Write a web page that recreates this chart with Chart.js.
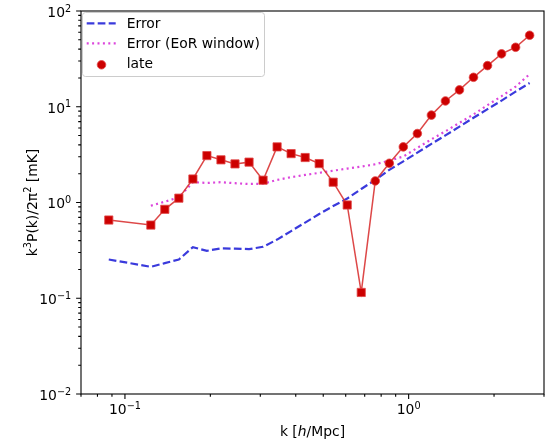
<!DOCTYPE html>
<html>
<head>
<meta charset="utf-8">
<script src="https://cdn.jsdelivr.net/npm/chart.js@4.4.1/dist/chart.umd.min.js"></script>
<style>
  html, body { margin: 0; padding: 0; background: #fff; }
  #wrap { width: 547px; height: 443px; }
</style>
</head>
<body>
<div id="wrap"><canvas id="pk" width="547" height="443"></canvas></div>
<script>
// k bins [h/Mpc]
const kBins = [0.0877, 0.1234, 0.1382, 0.1549, 0.1736, 0.1945, 0.2180, 0.2443, 0.2738, 0.3068,
               0.3438, 0.3852, 0.4317, 0.4838, 0.5420, 0.6074, 0.6806, 0.7627, 0.8548, 0.9578,
               1.0734, 1.2029, 1.3480, 1.5106, 1.6928, 1.8970, 2.1258, 2.3823, 2.6696];

// late-time power spectrum [mK], negative bins are plotted as |P| with squares
const latePk = [-0.656, -0.581, -0.849, -1.11, -1.76, -3.09, -2.79, -2.53, -2.64, -1.71,
                -3.81, -3.24, -2.95, -2.55, -1.63, -0.942, -0.115, 1.68, 2.57, 3.81,
                5.25, 8.18, 11.5, 15.0, 20.3, 26.9, 35.7, 41.8, 55.8];

// thermal noise error, all modes
const errorAll = [0.254, 0.213, 0.2325, 0.254, 0.342, 0.313, 0.3315, 0.330, 0.326, 0.3445,
                  0.410, 0.503, 0.617, 0.758, 0.919, 1.10, 1.385, 1.72, 2.19, 2.69,
                  3.32, 4.10, 5.03, 6.20, 7.67, 9.44, 11.6, 14.4, 17.7];

// error inside the EoR window (starts at the second bin)
const errorEoR = [0.926, 1.02, 1.13, 1.63, 1.60, 1.63, 1.59, 1.56, 1.57, 1.72,
                  1.84, 1.94, 2.04, 2.15, 2.26, 2.37, 2.51, 2.74, 3.02, 3.72,
                  4.57, 5.54, 6.80, 8.31, 10.4, 12.9, 16.2, 21.9];

// axis ticks
const xMajorTicks = [0.1, 1];
const xMinorTicks = [0.07, 0.08, 0.09, 0.2, 0.3, 0.4, 0.5, 0.6, 0.7, 0.8, 0.9, 2, 3];
const yMajorTicks = [0.01, 0.1, 1, 10, 100];

const FONT = '"DejaVu Sans", sans-serif';
const BIG = '13.9px ' + FONT;
const SUP = '9.7px ' + FONT;
const BLUE = '#3a3adc';
const PINK = '#dc46dc';
const RED = '#cc0000';

function toPoints(xs, ys) {
    return ys.map((v, i) => ({ x: xs[i], y: Math.abs(v) }));
}

// draws runs of [text, font, raise] left to right, returns nothing
function drawRuns(ctx, runs, left, baseline) {
    let cx = left;
    runs.forEach(([t, f, up]) => {
        ctx.font = f;
        ctx.fillText(t, cx, baseline - up);
        cx += ctx.measureText(t).width;
    });
}

function runsWidth(ctx, runs) {
    let w = 0;
    runs.forEach(([t, f]) => { ctx.font = f; w += ctx.measureText(t).width; });
    return w;
}

// "10" with a superscript exponent
function drawDecade(ctx, value, px, py, align) {
    const exp = Math.round(Math.log10(value));
    const sup = exp < 0 ? '\u2212' + (-exp) : String(exp);
    const runs = [['10', BIG, 0], [sup, SUP, 5.3]];
    const total = runsWidth(ctx, runs);
    const left = align === 'right' ? px - total : px - total / 2;
    ctx.textAlign = 'left';
    ctx.textBaseline = 'alphabetic';
    drawRuns(ctx, runs, left, py);
}

const mplAxes = {
    id: 'mplAxes',
    afterDraw(chart) {
        const { ctx, chartArea: a, scales: { x, y } } = chart;
        ctx.save();
        ctx.strokeStyle = '#000';
        ctx.fillStyle = '#000';
        ctx.lineWidth = 1.1;

        // frame
        ctx.strokeRect(a.left, a.top, a.right - a.left, a.bottom - a.top);

        // x ticks
        ctx.beginPath();
        xMajorTicks.forEach(v => {
            const px = x.getPixelForValue(v);
            ctx.moveTo(px, a.bottom); ctx.lineTo(px, a.bottom + 4.9);
        });
        xMinorTicks.forEach(v => {
            const px = x.getPixelForValue(v);
            ctx.moveTo(px, a.bottom); ctx.lineTo(px, a.bottom + 2.8);
        });
        // y ticks
        yMajorTicks.forEach(v => {
            const py = y.getPixelForValue(v);
            ctx.moveTo(a.left, py); ctx.lineTo(a.left - 4.9, py);
        });
        for (let d = 0.01; d < 100; d *= 10) {
            for (let m = 2; m <= 9; m++) {
                const py = y.getPixelForValue(m * d);
                ctx.moveTo(a.left, py); ctx.lineTo(a.left - 2.8, py);
            }
        }
        ctx.stroke();

        // tick labels
        ctx.fillStyle = '#000';
        xMajorTicks.forEach(v => drawDecade(ctx, v, x.getPixelForValue(v), a.bottom + 20.2, 'center'));
        yMajorTicks.forEach(v => drawDecade(ctx, v, a.left - 9.8, y.getPixelForValue(v) + 5.8, 'right'));

        // x title: k [h/Mpc] with italic h
        const xRuns = [['k [', BIG, 0], ['h', 'italic ' + BIG, 0], ['/Mpc]', BIG, 0]];
        drawRuns(ctx, xRuns, (a.left + a.right) / 2 - runsWidth(ctx, xRuns) / 2, 436);

        // y title: k^3 P(k) / 2 pi^2 [mK]
        const yRuns = [['k', BIG, 0], ['3', SUP, 5.6], ['P(k)/2\u03c0', BIG, 0], ['2', SUP, 5.6], [' [mK]', BIG, 0]];
        ctx.save();
        ctx.translate(37, (a.top + a.bottom) / 2);
        ctx.rotate(-Math.PI / 2);
        drawRuns(ctx, yRuns, -runsWidth(ctx, yRuns) / 2, 0);
        ctx.restore();

        // legend box
        ctx.beginPath();
        ctx.roundRect(82.5, 12.5, 182, 64, 3);
        ctx.fillStyle = 'rgba(255,255,255,0.8)';
        ctx.fill();
        ctx.strokeStyle = '#cccccc';
        ctx.lineWidth = 1;
        ctx.stroke();

        const rows = [
            { text: 'Error', color: BLUE, dash: [7.7, 3.3] },
            { text: 'Error (EoR window)', color: PINK, dash: [2, 3.4] },
            { text: 'late', marker: true }
        ];
        rows.forEach((r, i) => {
            const cy = 23.3 + i * 20;
            if (r.marker) {
                ctx.beginPath();
                ctx.arc(101.5, cy + 1.5, 4.3, 0, Math.PI * 2);
                ctx.fillStyle = RED;
                ctx.fill();
                ctx.strokeStyle = 'rgba(225,70,70,0.8)';
                ctx.lineWidth = 1;
                ctx.stroke();
            } else {
                ctx.beginPath();
                ctx.setLineDash(r.dash);
                ctx.strokeStyle = r.color;
                ctx.lineWidth = 2.2;
                ctx.moveTo(86.7, cy);
                ctx.lineTo(115.7, cy);
                ctx.stroke();
                ctx.setLineDash([]);
            }
            ctx.fillStyle = '#000';
            ctx.font = BIG;
            ctx.textAlign = 'left';
            ctx.fillText(r.text, 126.7, cy + 5);
        });
        ctx.restore();
    }
};

new Chart(document.getElementById('pk'), {
    type: 'line',
    data: {
        datasets: [
            {
                label: 'Error',
                data: toPoints(kBins, errorAll),
                borderColor: BLUE,
                borderWidth: 2.2,
                borderDash: [7.7, 3.3],
                pointRadius: 0,
                order: 2
            },
            {
                label: 'Error (EoR window)',
                data: toPoints(kBins.slice(1), errorEoR),
                borderColor: PINK,
                borderWidth: 2.2,
                borderDash: [2, 3.4],
                pointRadius: 0,
                order: 1
            },
            {
                label: 'late',
                data: toPoints(kBins, latePk),
                borderColor: 'rgba(215,40,40,0.85)',
                borderWidth: 1.5,
                pointStyle: latePk.map(v => v < 0 ? 'rect' : 'circle'),
                pointRadius: latePk.map(v => v < 0 ? 5.8 : 4.3),
                pointBackgroundColor: RED,
                pointBorderColor: 'rgba(225,70,70,0.8)',
                pointBorderWidth: 1,
                order: 0
            }
        ]
    },
    options: {
        responsive: false,
        animation: false,
        layout: { autoPadding: false, padding: { left: 81, right: 3, top: 11, bottom: 49 } },
        plugins: { legend: { display: false }, tooltip: { enabled: false } },
        scales: {
            x: { type: 'logarithmic', min: 0.07, max: 3.0, display: false },
            y: { type: 'logarithmic', min: 0.01, max: 100, display: false }
        }
    },
    plugins: [mplAxes]
});
</script>
</body>
</html>
